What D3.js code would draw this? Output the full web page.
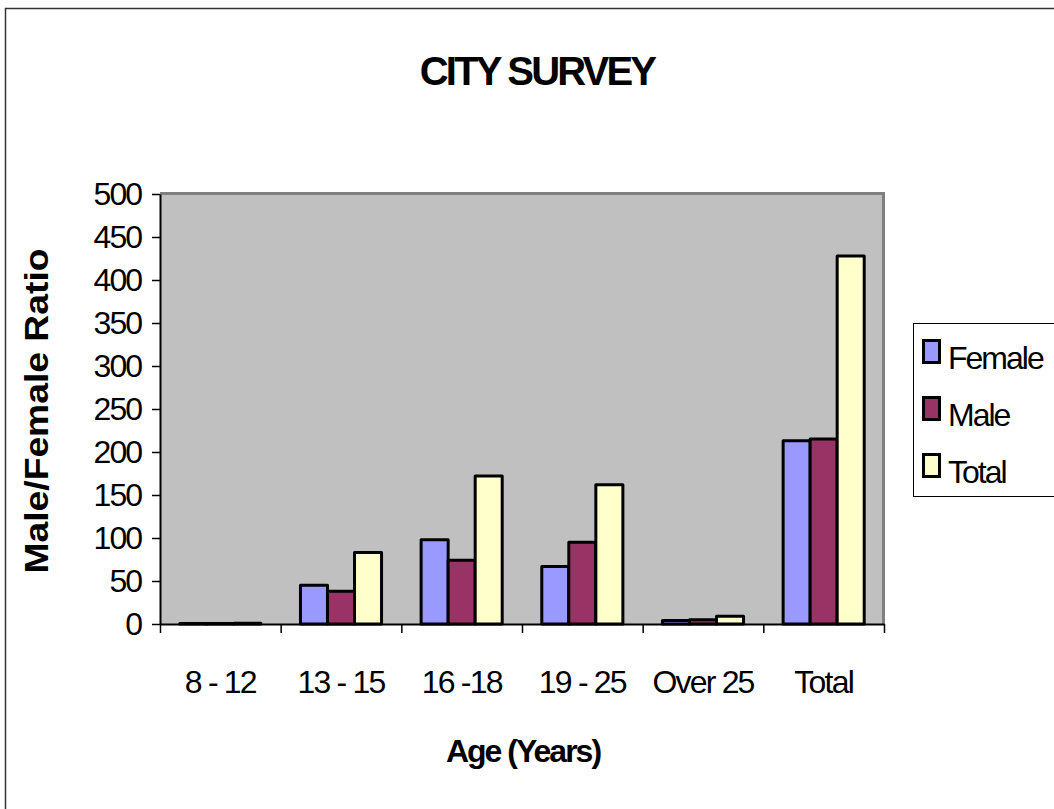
<!DOCTYPE html>
<html>
<head>
<meta charset="utf-8">
<script src="https://cdn.jsdelivr.net/npm/d3@7"></script>
<style>
  body { margin: 0; background: #fff; }
  text { font-family: "Liberation Sans", Arial, sans-serif; fill: #000; }
</style>
</head>
<body>
<div id="main"></div>
<script>
// **** data ****
var ageGroups = ["8 - 12", "13 - 15", "16 -18", "19 - 25", "Over 25", "Total"];
var seriesNames = ["Female", "Male", "Total"];
var female = [0.5, 45, 98, 67, 4, 213];
var male   = [0.5, 38, 74, 95, 5, 215];
var total  = [1, 83, 172, 162, 9, 428];
var yTicks = [0, 50, 100, 150, 200, 250, 300, 350, 400, 450, 500];

var colors = {"Female": "#9999FF", "Male": "#993366", "Total": "#FFFFCC"};

var rows = ageGroups.map(function(g, i) {
  return {group: g, Female: female[i], Male: male[i], Total: total[i]};
});

// **** svg + plot area ****
var W = 1054, H = 809;
var plot = {left: 160, right: 884, top: 194, bottom: 624};

var svg = d3.select("#main")
  .append("svg")
    .attr("width", W)
    .attr("height", H);

// outer chart frame (only left/top edges are visible in the picture)
svg.append("rect")
  .attr("x", 5.5).attr("y", 8.5)
  .attr("width", W + 10).attr("height", H + 10)
  .style("fill", "none")
  .style("stroke", "#333")
  .style("stroke-width", 1.5);

// **** scales ****
var x0 = d3.scaleBand()
  .domain(ageGroups)
  .range([plot.left, plot.right])
  .padding(0);

var x1 = d3.scaleBand()
  .domain(seriesNames)
  .range([x0.bandwidth() * 0.164, x0.bandwidth() * 0.836]);

var y = d3.scaleLinear()
  .domain([0, 500])
  .range([plot.bottom, plot.top]);

var xEdge = d3.scaleLinear()
  .domain([0, ageGroups.length])
  .range([plot.left, plot.right]);

// plot background
svg.append("rect")
  .attr("x", plot.left).attr("y", plot.top)
  .attr("width", plot.right - plot.left)
  .attr("height", plot.bottom - plot.top)
  .style("fill", "#C0C0C0");

// gray frame on top + right
svg.append("path")
  .attr("d", "M" + plot.left + "," + (plot.top - 0.5) + "H" + (plot.right - 0.5) + "V" + plot.bottom)
  .style("fill", "none")
  .style("stroke", "#808080")
  .style("stroke-width", 3);

// **** bars ****
var groups = svg.append("g")
  .selectAll("g")
  .data(rows)
  .enter()
  .append("g")
    .attr("transform", function(d) { return "translate(" + x0(d.group) + ",0)"; });

groups.selectAll("rect")
  .data(function(d) {
    return seriesNames.map(function(s) { return {key: s, value: d[s]}; });
  })
  .enter()
  .append("rect")
    .attr("x", function(d) { return x1(d.key); })
    .attr("y", function(d) { return y(d.value); })
    .attr("width", x1.bandwidth())
    .attr("height", function(d) { return plot.bottom - y(d.value); })
    .style("fill", function(d) { return colors[d.key]; })
    .style("stroke", "#000")
    .style("stroke-width", 3)
    .style("stroke-linejoin", "round");

// **** axes ****
var yAxis = svg.append("g")
  .attr("transform", "translate(" + plot.left + ",0)")
  .call(d3.axisLeft(y).tickValues(yTicks).tickSize(8).tickPadding(11).tickSizeOuter(0));
yAxis.select(".domain").style("stroke", "#000").style("stroke-width", 2);
yAxis.selectAll(".tick line").style("stroke", "#000").style("stroke-width", 1.5);
yAxis.selectAll(".tick text")
  .style("font-size", "32px")
  .style("letter-spacing", "-2px")
  .attr("dy", "0.33em");

var xTickAxis = svg.append("g")
  .attr("transform", "translate(0," + plot.bottom + ")")
  .call(d3.axisBottom(xEdge).tickValues(d3.range(ageGroups.length + 1)).tickSize(9).tickFormat("").tickSizeOuter(0));
xTickAxis.select(".domain").style("stroke", "#000").style("stroke-width", 2);
xTickAxis.selectAll(".tick line").style("stroke", "#000").style("stroke-width", 1.5);

var xLabelAxis = svg.append("g")
  .attr("transform", "translate(0," + plot.bottom + ")")
  .call(d3.axisBottom(x0).tickSize(0).tickPadding(69));
xLabelAxis.select(".domain").remove();
xLabelAxis.selectAll(".tick text")
  .style("font-size", "32px")
  .style("letter-spacing", "-1.8px")
  .attr("dy", "0");

// **** titles ****
svg.append("text")
  .attr("x", 537).attr("y", 85)
  .attr("text-anchor", "middle")
  .style("font-size", "40px")
  .style("font-weight", "bold")
  .style("letter-spacing", "-2.8px")
  .text("CITY SURVEY");

svg.append("text")
  .attr("x", 523).attr("y", 762)
  .attr("text-anchor", "middle")
  .style("font-size", "32px")
  .style("font-weight", "bold")
  .style("letter-spacing", "-2px")
  .text("Age (Years)");

svg.append("text")
  .attr("transform", "translate(48,411) rotate(-90)")
  .attr("text-anchor", "middle")
  .attr("textLength", 325)
  .attr("lengthAdjust", "spacingAndGlyphs")
  .style("font-size", "33px")
  .style("font-weight", "bold")
  .text("Male/Female Ratio");

// **** legend ****
var legend = svg.append("g").attr("transform", "translate(913,323)");
legend.append("rect")
  .attr("x", 0.5).attr("y", 0.5)
  .attr("width", 145).attr("height", 173)
  .style("fill", "#fff")
  .style("stroke", "#000")
  .style("stroke-width", 1);

var item = legend.selectAll(".item")
  .data(seriesNames)
  .enter()
  .append("g")
    .attr("class", "item")
    .attr("transform", function(d, i) { return "translate(0," + (i * 57) + ")"; });

item.append("rect")
  .attr("x", 10.5).attr("y", 17.5)
  .attr("width", 16).attr("height", 22)
  .style("fill", function(d) { return colors[d]; })
  .style("stroke", "#000")
  .style("stroke-width", 3);

item.append("text")
  .attr("x", 35).attr("y", 46)
  .style("font-size", "32px")
  .style("letter-spacing", "-2px")
  .text(function(d) { return d; });
</script>
</body>
</html>
